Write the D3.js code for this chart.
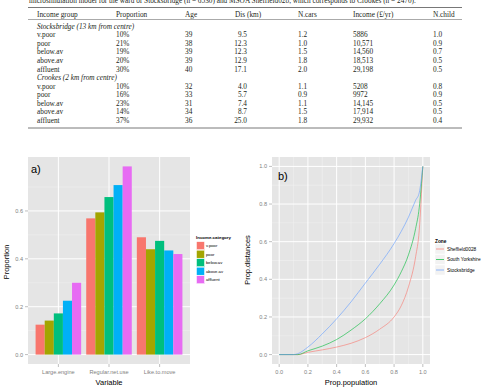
<!DOCTYPE html>
<html>
<head>
<meta charset="utf-8">
<script src="https://cdn.jsdelivr.net/npm/d3@7"></script>
<style>
  body { margin: 0; background: #fff; }
  svg { display: block; }
</style>
</head>
<body>
<svg id="fig" width="487" height="392"></svg>
<script>
// ---- table data ----
var tableHeaders = ["Income group", "Proportion", "Age", "Dis (km)", "N.cars", "Income (\u00a3/yr)", "N.child"];
var incomeGroups = ["v.poor", "poor", "below.av", "above.av", "affluent"];
var stocksProp = ["10%", "21%", "19%", "20%", "30%"];
var stocksAge = ["39", "38", "39", "39", "40"];
var stocksDis = ["9.5", "12.3", "12.3", "12.9", "17.1"];
var stocksCars = ["1.2", "1.0", "1.5", "1.8", "2.0"];
var stocksIncome = ["5886", "10,571", "14,560", "18,513", "29,198"];
var stocksChild = ["1.0", "0.9", "0.7", "0.5", "0.5"];
var crookesProp = ["10%", "16%", "23%", "14%", "37%"];
var crookesAge = ["32", "33", "31", "34", "36"];
var crookesDis = ["4.0", "5.7", "7.4", "8.7", "25.0"];
var crookesCars = ["1.1", "0.9", "1.1", "1.5", "1.8"];
var crookesIncome = ["5208", "9972", "14,145", "17,914", "29,932"];
var crookesChild = ["0.8", "0.9", "0.5", "0.5", "0.4"];

// ---- panel a data ----
var variables = ["Large.engine", "Regular.net.use", "Like.to.move"];
var incomeCats = ["v.poor", "poor", "below.av", "above.av", "affluent"];
var largeEngine = [0.125, 0.142, 0.172, 0.225, 0.30];
var regularNetUse = [0.569, 0.594, 0.658, 0.708, 0.786];
var likeToMove = [0.49, 0.44, 0.475, 0.435, 0.42];
var yTicksA = [0, 0.2, 0.4, 0.6];

// ---- panel b data ----
var zones = ["Sheffield0028", "South Yorkshire", "Stocksbridge"];
var propPop = [0, 0.1, 0.13, 0.2, 0.3, 0.4, 0.5, 0.6, 0.7, 0.8, 0.85, 0.9, 0.95, 0.975, 1];
var sheffieldDist = [0, 0, 0, 0.012, 0.025, 0.04, 0.06, 0.09, 0.135, 0.2, 0.26, 0.36, 0.52, 0.66, 1];
var southYorksDist = [0, 0, 0, 0.02, 0.045, 0.08, 0.13, 0.19, 0.27, 0.37, 0.44, 0.53, 0.67, 0.78, 1];
var stocksDist = [0, 0, 0.005, 0.04, 0.11, 0.19, 0.28, 0.38, 0.48, 0.59, 0.655, 0.73, 0.82, 0.86, 1];
var ticksB = [0, 0.2, 0.4, 0.6, 0.8, 1.0];

var barColors = ["#F8766D", "#A3A500", "#00BF7D", "#00B0F6", "#E76BF3"];
var lineColors = ["#F8766D", "#00BA38", "#619CFF"];

var svg = d3.select("#fig");
var serif = "'Liberation Serif', 'DejaVu Serif', serif";
var sans = "'Liberation Sans', Arial, sans-serif";

// ---------- table ----------
var tbl = svg.append("g").attr("font-family", serif).attr("font-size", 7.3).attr("fill", "#231f20");
tbl.append("text").attr("x", 29).attr("y", 3)
  .text("microsimulation model for the ward of Stocksbridge (n = 6530) and MSOA Sheffield028, which corresponds to Crookes (n = 2470).");
tbl.append("line").attr("x1", 28).attr("x2", 462).attr("y1", 7.5).attr("y2", 7.5).attr("stroke", "#555").attr("stroke-width", 0.8);
tbl.append("line").attr("x1", 28).attr("x2", 462).attr("y1", 19.5).attr("y2", 19.5).attr("stroke", "#555").attr("stroke-width", 0.5);
tbl.append("line").attr("x1", 28).attr("x2", 462).attr("y1", 128).attr("y2", 128).attr("stroke", "#555").attr("stroke-width", 0.8);

var colX = [37, 116, 185, 235, 298, 353, 433];
tableHeaders.forEach(function(h, i) {
  tbl.append("text").attr("x", colX[i]).attr("y", 16.5).text(h);
});

function tableBlock(title, y0, cols) {
  tbl.append("text").attr("x", 37).attr("y", y0).attr("font-style", "italic").text(title);
  incomeGroups.forEach(function(g, r) {
    var y = y0 + 8.6 * (r + 1);
    tbl.append("text").attr("x", 37).attr("y", y).text(g);
    tbl.append("text").attr("x", 116).attr("y", y).text(cols[0][r]);
    tbl.append("text").attr("x", 185).attr("y", y).text(cols[1][r]);
    tbl.append("text").attr("x", 247).attr("y", y).attr("text-anchor", "end").text(cols[2][r]);
    tbl.append("text").attr("x", 298).attr("y", y).text(cols[3][r]);
    tbl.append("text").attr("x", 353).attr("y", y).text(cols[4][r]);
    tbl.append("text").attr("x", 433).attr("y", y).text(cols[5][r]);
  });
}
tableBlock("Stocksbridge (13 km from centre)", 28.5, [stocksProp, stocksAge, stocksDis, stocksCars, stocksIncome, stocksChild]);
tableBlock("Crookes (2 km from centre)", 80, [crookesProp, crookesAge, crookesDis, crookesCars, crookesIncome, crookesChild]);

// ---------- panel a ----------
var pa = {left: 28, right: 190, top: 157, bottom: 364};
var barSeries = [largeEngine, regularNetUse, likeToMove];
var maxA = d3.max(barSeries, function(s) { return d3.max(s); });
var yA = d3.scaleLinear().domain([-0.05 * maxA, maxA * 1.05]).range([pa.bottom, pa.top]);
var xA = d3.scalePoint().domain(variables).range([pa.left, pa.right]).padding(0.6);
var stepA = xA.step();
var xInner = d3.scaleBand().domain(incomeCats).range([-0.45 * stepA, 0.45 * stepA]);

var gA = svg.append("g");
gA.append("rect").attr("x", pa.left).attr("y", pa.top).attr("width", pa.right - pa.left)
  .attr("height", pa.bottom - pa.top).attr("fill", "#E5E5E5");
[0.1, 0.3, 0.5, 0.7].forEach(function(v) {
  gA.append("line").attr("x1", pa.left).attr("x2", pa.right).attr("y1", yA(v)).attr("y2", yA(v))
    .attr("stroke", "#F2F2F2").attr("stroke-width", 0.5);
});
yTicksA.forEach(function(v) {
  gA.append("line").attr("x1", pa.left).attr("x2", pa.right).attr("y1", yA(v)).attr("y2", yA(v))
    .attr("stroke", "#fff").attr("stroke-width", 1);
});
variables.forEach(function(v) {
  gA.append("line").attr("x1", xA(v)).attr("x2", xA(v)).attr("y1", pa.top).attr("y2", pa.bottom)
    .attr("stroke", "#fff").attr("stroke-width", 1);
});

variables.forEach(function(v, i) {
  gA.selectAll(null).data(barSeries[i]).enter().append("rect")
    .attr("x", function(d, j) { return xA(v) + xInner(incomeCats[j]); })
    .attr("width", xInner.bandwidth())
    .attr("y", function(d) { return yA(d); })
    .attr("height", function(d) { return yA(0) - yA(d); })
    .attr("fill", function(d, j) { return barColors[j]; });
});

// axes a
var axA = gA.append("g").attr("font-family", sans).attr("font-size", 5.6).attr("fill", "#7F7F7F");
yTicksA.forEach(function(v) {
  axA.append("line").attr("x1", pa.left - 3).attr("x2", pa.left).attr("y1", yA(v)).attr("y2", yA(v))
    .attr("stroke", "#7F7F7F").attr("stroke-width", 0.5);
  axA.append("text").attr("x", pa.left - 5).attr("y", yA(v) + 2).attr("text-anchor", "end").text(v.toFixed(1));
});
variables.forEach(function(v) {
  axA.append("line").attr("x1", xA(v)).attr("x2", xA(v)).attr("y1", pa.bottom).attr("y2", pa.bottom + 3)
    .attr("stroke", "#7F7F7F").attr("stroke-width", 0.5);
  axA.append("text").attr("x", xA(v)).attr("y", pa.bottom + 9.5).attr("text-anchor", "middle").text(v);
});
gA.append("text").attr("x", (pa.left + pa.right) / 2).attr("y", 385).attr("text-anchor", "middle")
  .attr("font-family", sans).attr("font-size", 7.5).text("Variable");
gA.append("text").attr("transform", "translate(9," + 262 + ") rotate(-90)").attr("text-anchor", "middle")
  .attr("font-family", sans).attr("font-size", 7.5).text("Proportion");
gA.append("text").attr("x", 31).attr("y", 173).attr("font-family", sans).attr("font-size", 11).text("a)");

// legend a
var lgA = svg.append("g").attr("font-family", sans);
lgA.append("text").attr("x", 196).attr("y", 239).attr("font-size", 4.4).attr("font-weight", "bold").text("Income.category");
incomeCats.forEach(function(c, i) {
  var cy = 245.7 + i * 8.5;
  lgA.append("rect").attr("x", 196.5).attr("y", cy - 4).attr("width", 8).attr("height", 8)
    .attr("fill", barColors[i]).attr("stroke", "#fff").attr("stroke-width", 0.5);
  lgA.append("text").attr("x", 206).attr("y", cy + 1.5).attr("font-size", 4.2).text(c);
});

// ---------- panel b ----------
var pb = {left: 272, right: 430, top: 157, bottom: 364};
var xB = d3.scaleLinear().domain([-0.05, 1.05]).range([pb.left, pb.right]);
var yB = d3.scaleLinear().domain([-0.05, 1.05]).range([pb.bottom, pb.top]);
var gB = svg.append("g");
gB.append("rect").attr("x", pb.left).attr("y", pb.top).attr("width", pb.right - pb.left)
  .attr("height", pb.bottom - pb.top).attr("fill", "#E5E5E5");
[0.1, 0.3, 0.5, 0.7, 0.9].forEach(function(v) {
  gB.append("line").attr("x1", pb.left).attr("x2", pb.right).attr("y1", yB(v)).attr("y2", yB(v))
    .attr("stroke", "#F2F2F2").attr("stroke-width", 0.5);
  gB.append("line").attr("x1", xB(v)).attr("x2", xB(v)).attr("y1", pb.top).attr("y2", pb.bottom)
    .attr("stroke", "#F2F2F2").attr("stroke-width", 0.5);
});
ticksB.forEach(function(v) {
  gB.append("line").attr("x1", pb.left).attr("x2", pb.right).attr("y1", yB(v)).attr("y2", yB(v))
    .attr("stroke", "#fff").attr("stroke-width", 1);
  gB.append("line").attr("x1", xB(v)).attr("x2", xB(v)).attr("y1", pb.top).attr("y2", pb.bottom)
    .attr("stroke", "#fff").attr("stroke-width", 1);
});

var curves = [sheffieldDist, southYorksDist, stocksDist];
var line = d3.line()
  .x(function(d, i) { return xB(propPop[i]); })
  .y(function(d) { return yB(d); })
  .curve(d3.curveMonotoneX);
curves.forEach(function(c, i) {
  gB.append("path").attr("d", line(c)).attr("fill", "none")
    .attr("stroke", lineColors[i]).attr("stroke-width", 0.6);
});

var axB = gB.append("g").attr("font-family", sans).attr("font-size", 5.6).attr("fill", "#7F7F7F");
ticksB.forEach(function(v) {
  axB.append("line").attr("x1", pb.left - 3).attr("x2", pb.left).attr("y1", yB(v)).attr("y2", yB(v))
    .attr("stroke", "#7F7F7F").attr("stroke-width", 0.5);
  axB.append("text").attr("x", pb.left - 5).attr("y", yB(v) + 2).attr("text-anchor", "end").text(v.toFixed(1));
  axB.append("line").attr("x1", xB(v)).attr("x2", xB(v)).attr("y1", pb.bottom).attr("y2", pb.bottom + 3)
    .attr("stroke", "#7F7F7F").attr("stroke-width", 0.5);
  axB.append("text").attr("x", xB(v)).attr("y", pb.bottom + 9.5).attr("text-anchor", "middle").text(v.toFixed(1));
});
gB.append("text").attr("x", (pb.left + pb.right) / 2).attr("y", 385).attr("text-anchor", "middle")
  .attr("font-family", sans).attr("font-size", 7.5).text("Prop.population");
gB.append("text").attr("transform", "translate(250," + 260 + ") rotate(-90)").attr("text-anchor", "middle")
  .attr("font-family", sans).attr("font-size", 7.5).text("Prop.distances");
gB.append("text").attr("x", 278).attr("y", 180).attr("font-family", sans).attr("font-size", 11).text("b)");

// legend b
var lgB = svg.append("g").attr("font-family", sans);
lgB.append("text").attr("x", 435).attr("y", 243).attr("font-size", 4.8).attr("font-weight", "bold").text("Zone");
zones.forEach(function(z, i) {
  var cy = 249 + i * 10.5;
  lgB.append("rect").attr("x", 435).attr("y", cy - 5).attr("width", 10).attr("height", 10).attr("fill", "#F2F2F2")
    .attr("stroke", "#fff").attr("stroke-width", 0.5);
  lgB.append("line").attr("x1", 436).attr("x2", 444).attr("y1", cy).attr("y2", cy)
    .attr("stroke", lineColors[i]).attr("stroke-width", 0.7);
  lgB.append("text").attr("x", 447).attr("y", cy + 1.7).attr("font-size", 4.8).text(z);
});
</script>
</body>
</html>
